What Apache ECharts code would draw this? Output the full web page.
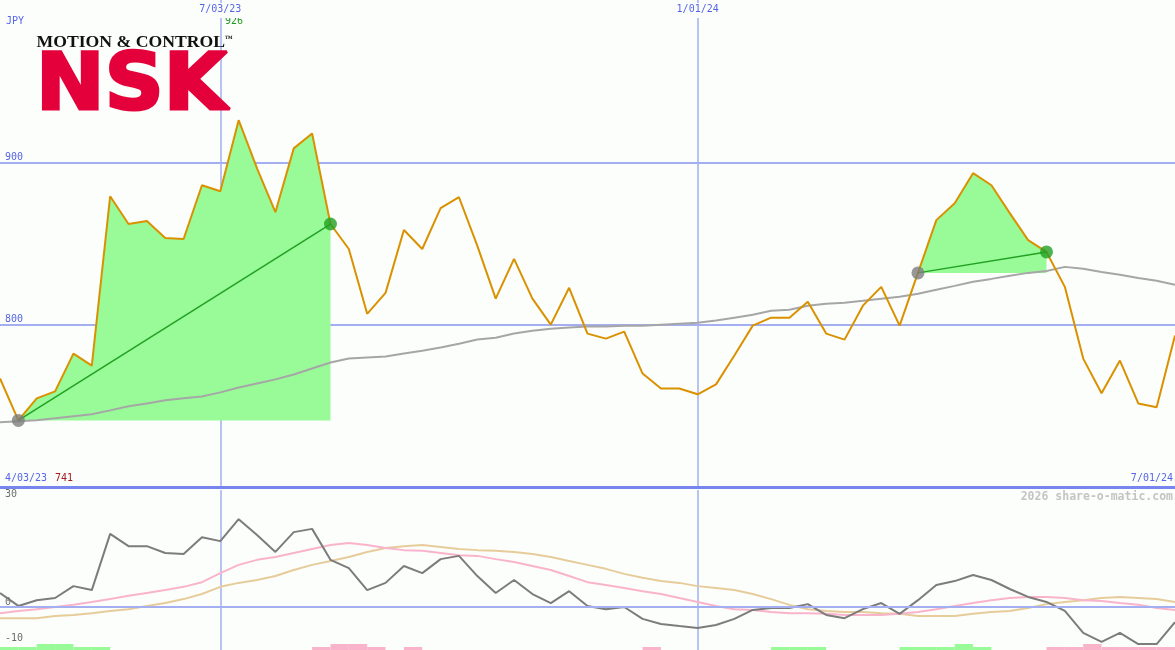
<!DOCTYPE html>
<html>
<head>
<meta charset="utf-8">
<script src="https://cdn.jsdelivr.net/npm/echarts@6/dist/echarts.min.js"></script>
<style>
  html, body { margin: 0; padding: 0; background: #fcfefc; }
  #chart { width: 1175px; height: 650px; }
</style>
</head>
<body>
<div id="chart"></div>
<script>
// weekly closes, 4/10/23 .. 7/01/24
const weeks = [
  '4/10/23', '4/17/23', '4/24/23', '5/01/23', '5/08/23', '5/15/23', '5/22/23', '5/29/23', '6/05/23', '6/12/23',
  '6/19/23', '6/26/23', '7/03/23', '7/10/23', '7/17/23', '7/24/23', '7/31/23', '8/07/23', '8/14/23', '8/21/23',
  '8/28/23', '9/04/23', '9/11/23', '9/18/23', '9/25/23', '10/02/23', '10/09/23', '10/16/23', '10/23/23', '10/30/23',
  '11/06/23', '11/13/23', '11/20/23', '11/27/23', '12/04/23', '12/11/23', '12/18/23', '12/25/23', '1/01/24', '1/08/24',
  '1/15/24', '1/22/24', '1/29/24', '2/05/24', '2/12/24', '2/19/24', '2/26/24', '3/04/24', '3/11/24', '3/18/24',
  '3/25/24', '4/01/24', '4/08/24', '4/15/24', '4/22/24', '4/29/24', '5/06/24', '5/13/24', '5/20/24', '5/27/24',
  '6/03/24', '6/10/24', '6/17/24', '6/24/24', '7/01/24'
];

const price = [
  766.9, 741, 754.6, 758.9, 782.2, 774.8, 879.1, 862.0, 863.8, 853.4,
  852.8, 885.9, 882.2, 926, 896.3, 869.3, 908.6, 917.8, 862.0, 846.6,
  806.7, 819.6, 858.3, 846.6, 871.8, 878.5, 848.5, 816.0, 840.5, 816.0,
  800.0, 822.7, 794.5, 791.4, 795.7, 769.9, 760.7, 760.7, 757.1, 763.2,
  781.0, 799.4, 804.3, 804.3, 814.1, 794.5, 790.8, 811.7, 823.3, 799.4,
  831.9, 864.4, 874.8, 893.3, 885.9, 868.7, 852.1, 844.8, 823.3, 779.1,
  757.7, 777.9, 751.5, 749.1, 793.3
];

const priceAvg = [
  739.9, 740.5, 741.1, 742.3, 743.6, 744.8, 747.2, 749.7, 751.5, 753.4,
  754.6, 755.8, 758.3, 761.3, 763.8, 766.3, 769.3, 773.0, 776.7, 779.1,
  779.8, 780.4, 782.2, 784.0, 785.9, 788.3, 790.8, 792.0, 794.5, 796.3,
  797.5, 798.2, 798.8, 798.8, 799.4, 799.4, 800.0, 800.6, 801.2, 802.5,
  804.3, 806.1, 808.6, 809.2, 811.7, 812.9, 813.5, 814.7, 816.0, 817.2,
  819.0, 821.5, 823.9, 826.4, 828.2, 830.1, 831.9, 833.1, 835.6, 834.4,
  832.5, 830.7, 828.8, 827.0, 824.5
];

// lower panel
const momentum = [
  3.9, 0.3, 1.9, 2.5, 5.8, 4.7, 20.3, 16.9, 16.9, 15.0,
  14.7, 19.4, 18.3, 24.4, 20.0, 15.3, 20.8, 21.7, 13.1, 10.8,
  4.7, 6.7, 11.4, 9.4, 13.3, 14.2, 8.6, 3.9, 7.5, 3.6,
  1.1, 4.4, 0.3, -0.6, 0, -3.3, -4.7, -5.3, -5.8, -5.0,
  -3.3, -0.8, -0.3, -0.3, 0.8, -2.2, -3.1, -0.6, 1.1, -1.9,
  1.9, 6.1, 7.2, 8.9, 7.5, 5.0, 2.8, 1.4, -1.1, -7.2,
  -9.7, -7.2, -10.3, -10.3, -4.2
];
const momentumFast = [
  -1.7, -1.1, -0.6, 0, 0.6, 1.4, 2.2, 3.1, 3.9, 4.7,
  5.6, 6.9, 9.4, 11.7, 13.1, 13.9, 15.0, 16.1, 17.2, 17.8,
  17.2, 16.4, 15.8, 15.6, 15.0, 14.4, 14.2, 13.3, 12.5, 11.4,
  10.3, 8.6, 6.9, 6.1, 5.3, 4.4, 3.6, 2.5, 1.4, 0.3,
  -0.6, -0.8, -1.4, -1.7, -1.7, -1.9, -2.2, -2.2, -2.2, -1.9,
  -1.4, -0.6, 0.3, 1.1, 1.9, 2.5, 2.8, 2.8, 2.5, 1.9,
  1.7, 1.1, 0.6, -0.3, -0.8
];
const momentumSlow = [
  -3.1, -3.1, -3.1, -2.5, -2.2, -1.7, -1.1, -0.6, 0.3, 1.1,
  2.2, 3.6, 5.6, 6.7, 7.5, 8.6, 10.3, 11.7, 12.8, 13.9,
  15.3, 16.4, 16.9, 17.2, 16.7, 16.1, 15.8, 15.6, 15.3, 14.7,
  13.9, 12.8, 11.7, 10.6, 9.2, 8.1, 7.2, 6.7, 5.8, 5.3,
  4.7, 3.6, 2.2, 0.6, -0.6, -1.1, -1.4, -1.4, -1.7, -1.9,
  -2.5, -2.5, -2.5, -1.9, -1.4, -1.1, -0.3, 0.8, 1.4, 1.9,
  2.5, 2.8, 2.5, 2.2, 1.4
];

// signal strip along the bottom, one per week interval
const upBars = [
  1, 1, 2, 2, 1, 1, 0, 0, 0, 0, 0, 0, 0, 0, 0, 0, 0, 0, 0, 0,
  0, 0, 0, 0, 0, 0, 0, 0, 0, 0, 0, 0, 0, 0, 0, 0, 0, 0, 0, 0,
  0, 0, 1, 1, 1, 0, 0, 0, 0, 1, 1, 1, 2, 1, 0, 0, 0, 0, 0, 0,
  0, 0, 0, 0
];
const downBars = [
  0, 0, 0, 0, 0, 0, 0, 0, 0, 0, 0, 0, 0, 0, 0, 0, 0, 1, 2, 2,
  1, 0, 1, 0, 0, 0, 0, 0, 0, 0, 0, 0, 0, 0, 0, 1, 0, 0, 0, 0,
  0, 0, 0, 0, 0, 0, 0, 0, 0, 0, 0, 0, 0, 0, 0, 0, 0, 1, 1, 2,
  1, 1, 1, 1
];

const priceTicks = [800, 900];
const lowerTicks = [30, 0, -10];
const dateMarks = [12, 38];           // 7/03/23, 1/01/24
const highlightRanges = [[1, 18], [50, 57]];
const firstDate = '4/03/23';
const lastDate = '7/01/24';
const currency = 'JPY';
const highValue = '926';
const lowValue = '741';

const bg = '#fcfefc';
const gridBlue = '#a3aff0';
const labelBlue = '#5565e6';
const fillGreen = '#98fb98';
const mono = '"DejaVu Sans Mono", monospace';

const chart = echarts.init(document.getElementById('chart'));
const isMark = (i) => dateMarks.includes(i);

const trendSeries = highlightRanges.map(([s, e]) => ({
  type: 'line',
  xAxisIndex: 0, yAxisIndex: 0,
  data: [[s, price[s]], [e, price[e]]],
  symbol: 'none',
  lineStyle: { color: '#22a022', width: 1.5 },
  z: 4
}));

const option = {
  backgroundColor: bg,
  animation: false,
  grid: [
    { left: 0, right: 0, top: -2, height: 489 },
    { left: 0, right: 0, top: 490, height: 160 },
    { left: 0, right: 0, top: 644, height: 6 }
  ],
  xAxis: [
    {
      gridIndex: 0, type: 'category', data: weeks, boundaryGap: false, position: 'bottom',
      axisLine: { show: true, lineStyle: { color: '#7785ee', width: 3 } },
      axisTick: { show: false }, axisLabel: { show: false },
      splitLine: { show: true, interval: (i) => isMark(i), lineStyle: { color: gridBlue, width: 1.5 } }
    },
    {
      gridIndex: 0, type: 'category', data: weeks, boundaryGap: false, position: 'top',
      axisLine: { show: false }, axisTick: { show: false }, splitLine: { show: false },
      axisLabel: {
        show: true, inside: true, interval: (i) => isMark(i), margin: 3,
        color: labelBlue, fontFamily: mono, fontSize: 10,
        backgroundColor: bg, padding: [1, 2, 4, 2]
      }
    },
    {
      gridIndex: 1, type: 'category', data: weeks, boundaryGap: false,
      axisLine: { show: false }, axisTick: { show: false }, axisLabel: { show: false },
      splitLine: { show: true, interval: (i) => isMark(i), lineStyle: { color: gridBlue, width: 1.5 } }
    },
    {
      gridIndex: 2, type: 'category', data: weeks.slice(0, 64), boundaryGap: true, show: false
    }
  ],
  yAxis: [
    {
      gridIndex: 0, type: 'value', min: 700, max: 1000, interval: 100,
      axisLine: { show: false }, axisTick: { show: false },
      axisLabel: {
        inside: true, margin: 5, verticalAlign: 'bottom', color: labelBlue, fontFamily: mono, fontSize: 10,
        formatter: (v) => (priceTicks.includes(v) ? String(v) : '')
      },
      splitLine: { show: true, showMinLine: false, showMaxLine: false, lineStyle: { color: gridBlue, width: 2 } }
    },
    {
      gridIndex: 1, type: 'value', min: -11.94, max: 32.5,
      axisLine: { show: false }, axisTick: { show: false }, splitLine: { show: false },
      axisLabel: {
        inside: true, margin: 5, verticalAlign: 'bottom', color: '#6c6c6c', fontFamily: mono, fontSize: 10,
        customValues: lowerTicks
      }
    },
    { gridIndex: 2, type: 'value', min: 0, max: 2, show: false }
  ],
  graphic: [
    { type: 'text', x: 6, y: 21.5, style: { text: currency, fill: labelBlue, font: '10px ' + mono, textVerticalAlign: 'middle' } },
    { type: 'text', x: 225, y: 21, style: { text: highValue, fill: '#209a20', font: '10px ' + mono, textVerticalAlign: 'middle' } },
    { type: 'text', x: 5, y: 478, style: { text: firstDate, fill: labelBlue, font: '10px ' + mono, textVerticalAlign: 'middle' } },
    { type: 'text', x: 55, y: 478, style: { text: lowValue, fill: '#a41a1a', font: '10px ' + mono, textVerticalAlign: 'middle' } },
    { type: 'text', x: 1173, y: 478, style: { text: lastDate, fill: labelBlue, font: '10px ' + mono, textAlign: 'right', textVerticalAlign: 'middle' } },
    { type: 'text', x: 1173, y: 497.5, style: { text: '2026 share-o-matic.com', fill: '#c4c4c4', font: 'bold 11.5px ' + mono, textAlign: 'right', textVerticalAlign: 'middle' } },
    // logo
    {
      type: 'text', x: 38, y: 42.5, z: 10, scaleX: 1.04, originX: 38,
      style: { text: 'MOTION & CONTROL', fill: '#111', font: 'bold 17px "Liberation Serif", serif', textVerticalAlign: 'middle' }
    },
    { type: 'text', x: 225, y: 39, z: 10, style: { text: '™', fill: '#111', font: 'bold 8px "Liberation Serif", serif', textVerticalAlign: 'middle' } },
    {
      type: 'text', x: 38, y: 89, z: 10, scaleX: 1.05, originX: 38,
      style: { text: 'NSK', fill: '#e4003a', stroke: '#e4003a', lineWidth: 3, font: 'bold 78px "DejaVu Sans", sans-serif', textVerticalAlign: 'middle' }
    }
  ],
  series: [
    {
      type: 'custom', xAxisIndex: 0, yAxisIndex: 0, data: highlightRanges, z: 1,
      renderItem: (params, api) => {
        const s = api.value(0), e = api.value(1);
        const base = price[s];
        const pts = [];
        for (let i = s; i <= e; i++) pts.push(api.coord([i, price[i]]));
        pts.push(api.coord([e, base]));
        pts.push(api.coord([s, base]));
        return { type: 'polygon', shape: { points: pts }, style: { fill: fillGreen } };
      }
    },
    {
      type: 'line', xAxisIndex: 0, yAxisIndex: 0, data: priceAvg, symbol: 'none', z: 2,
      lineStyle: { color: '#a6a6a6', width: 2 }
    },
    {
      type: 'line', xAxisIndex: 0, yAxisIndex: 0, data: price, symbol: 'none', z: 3,
      lineStyle: { color: '#da9100', width: 2 }
    },
    ...trendSeries,
    {
      type: 'scatter', xAxisIndex: 0, yAxisIndex: 0, symbolSize: 13, z: 5,
      data: highlightRanges.map(([s]) => [s, price[s]]),
      itemStyle: { color: '#7d7d7d' }
    },
    {
      type: 'scatter', xAxisIndex: 0, yAxisIndex: 0, symbolSize: 13, z: 5,
      data: highlightRanges.map(([, e]) => [e, price[e]]),
      itemStyle: { color: '#22a022' }
    },
    {
      type: 'line', xAxisIndex: 2, yAxisIndex: 1, data: momentumSlow, symbol: 'none', z: 2,
      lineStyle: { color: '#e6cc9a', width: 2 },
      markLine: {
        silent: true, symbol: 'none', label: { show: false },
        lineStyle: { color: gridBlue, width: 2, type: 'solid' },
        data: [{ yAxis: 0 }]
      }
    },
    {
      type: 'line', xAxisIndex: 2, yAxisIndex: 1, data: momentumFast, symbol: 'none', z: 3,
      lineStyle: { color: '#f9b4cb', width: 2 }
    },
    {
      type: 'line', xAxisIndex: 2, yAxisIndex: 1, data: momentum, symbol: 'none', z: 4,
      lineStyle: { color: '#7c7c7c', width: 2 }
    },
    {
      type: 'bar', xAxisIndex: 3, yAxisIndex: 2, data: upBars, barWidth: '100%', barGap: '-100%',
      itemStyle: { color: fillGreen }
    },
    {
      type: 'bar', xAxisIndex: 3, yAxisIndex: 2, data: downBars, barWidth: '100%', barGap: '-100%',
      itemStyle: { color: '#f9b4cb' }
    }
  ]
};

chart.setOption(option);
</script>
</body>
</html>
